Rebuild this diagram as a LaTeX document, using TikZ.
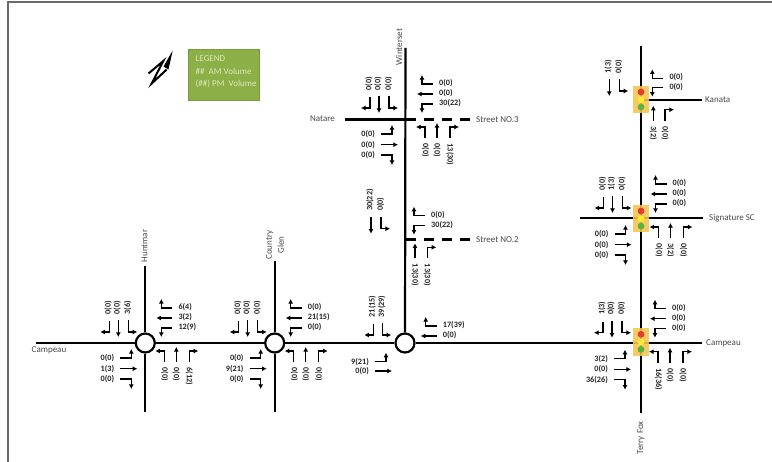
\documentclass[tikz,border=0pt]{standalone}
\usepackage{fontspec}
\setmainfont{Carlito}
\usetikzlibrary{arrows.meta}
\definecolor{framegray}{HTML}{6A6A6A}
\definecolor{legendfill}{HTML}{8CAF47}
\definecolor{legendedge}{HTML}{7A9A3C}
\definecolor{legendtext}{HTML}{DDE8BC}
\definecolor{roadtext}{HTML}{4A4A4A}
\definecolor{tlbox}{HTML}{F5C451}
\definecolor{tlred}{HTML}{E8392A}
\definecolor{tlyellow}{HTML}{F4EC2C}
\definecolor{tlgreen}{HTML}{5CB23C}
\tikzset{
  road/.style={line width=2.2pt,black},
  dashroad/.style={line width=2.2pt,black,dash pattern=on 10pt off 8pt},
  mv/.style={line width=1.3pt,black,-{Latex[length=4.6pt,width=5pt]}},
  circ/.style={circle,draw=black,line width=2.2pt,fill=white,minimum size=19pt,inner sep=0pt},
  vol/.style={font=\fontsize{8.2}{8.5}\selectfont\bfseries,text=black!85,inner sep=0pt},
  volup/.style={vol,rotate=90,anchor=west},
  voldn/.style={vol,rotate=-90,anchor=west},
  volr/.style={vol,anchor=west},
  voll/.style={vol,anchor=east},
  rname/.style={font=\fontsize{9}{9.5}\selectfont,text=roadtext,inner sep=0pt},
  tbox/.style={fill=tlbox,draw=none,opacity=.88,minimum width=16pt,minimum height=27.5pt,inner sep=0pt},
}
\newcommand{\SL}[1]{\draw[mv](-36,-22)--(-36,-11)--(-45,-11);\node[volup] at (-37,-28.5){#1};}
\newcommand{\ST}[1]{\draw[mv](-27,-23)--(-27,-6);\node[volup] at (-28,-28.5){#1};}
\newcommand{\SR}[1]{\draw[mv](-17,-23)--(-17,-11)--(-8,-11);\node[volup] at (-17.5,-28.5){#1};}
\newcommand{\WN}[1]{\draw[mv](27,-35)--(16,-35)--(16,-44);\node[volr] at (33,-36){#1};}
\newcommand{\WT}[1]{\draw[mv](27,-25)--(11,-25);\node[volr] at (33,-25.5){#1};}
\newcommand{\WS}[1]{\draw[mv](27,-15)--(16,-15)--(16,-6);\node[volr] at (33,-15.5){#1};}
\newcommand{\EN}[1]{\draw[mv](-25,15)--(-14,15)--(-14,6);\node[voll] at (-31,15){#1};}
\newcommand{\ET}[1]{\draw[mv](-25,25.7)--(-8,25.7);\node[voll] at (-31,25.7){#1};}
\newcommand{\ES}[1]{\draw[mv](-25,36)--(-14,36)--(-14,46);\node[voll] at (-31,36){#1};}
\newcommand{\NW}[1]{\draw[mv](19,19)--(19,8)--(10,8);\node[voldn] at (19.5,24.5){#1};}
\newcommand{\NT}[1]{\draw[mv](31,19)--(31,4);\node[voldn] at (31,24.5){#1};}
\newcommand{\NE}[1]{\draw[mv](44,19)--(44,8)--(53,8);\node[voldn] at (44,24.5){#1};}
\newcommand{\G}[3]{\begin{scope}[shift={(#1,#2)}]#3\end{scope}}
\newcommand{\TL}[2]{%
  \node[tbox] at (#1,#2) {};
  \fill[tlred] (#1,#2-7.7) circle (3.4);
  \fill[tlyellow] (#1,#2) circle (3.4);
  \fill[tlgreen] (#1,#2+7.4) circle (3.4);
}
\begin{document}
\begin{tikzpicture}[x=1pt,y=-1pt]
\useasboundingbox (0,0) rectangle (772,462);
\fill[white] (0,0) rectangle (772,462);
\draw[framegray,line width=2pt] (8,462) -- (8,1.7) -- (772,1.7);
% intersections
\node[circ] (c1) at (145.3,343) {};
\node[circ] (c2) at (274.7,343) {};
\node[circ] (c3) at (405,343) {};
\coordinate (hw) at (36,343);
\coordinate (hn) at (145.3,266);
\coordinate (hs) at (145.3,412);
\coordinate (gn) at (274.7,261);
\coordinate (gs) at (274.7,412);
\coordinate (wn) at (405.5,48);
\coordinate (n3w) at (345,119.5);
\coordinate (n3c) at (405.5,119.5);
\coordinate (n3e) at (472,119.5);
\coordinate (n2c) at (405.5,239.5);
\coordinate (n2e) at (472,239.5);
\coordinate (tn) at (641,46);
\coordinate (ts) at (641,413);
\coordinate (kc) at (641,100);
\coordinate (ke) at (702,100);
\coordinate (sw) at (580,218);
\coordinate (se) at (703,218);
\coordinate (ce) at (702,343);
% roads
\draw[road] (hw) -- (c1);
\draw[road] (c1) -- (c2);
\draw[road] (c2) -- (c3);
\draw[road] (c3) -- (ce);
\draw[road] (hn) -- (c1);
\draw[road] (c1) -- (hs);
\draw[road] (gn) -- (c2);
\draw[road] (c2) -- (gs);
\draw[road] (wn) -- (c3);
\draw[road] (n3w) -- (n3c);
\draw[dashroad] (n3c) -- (n3e);
\draw[dashroad] (n2c) -- (n2e);
\draw[road] (tn) -- (ts);
\draw[road] (kc) -- (ke);
\draw[road] (sw) -- (se);
% traffic lights
\TL{641}{99.7}
\TL{641}{218.7}
\TL{641}{342}
% road names
\node[rname,rotate=90] (lh) at (144.5,246) {Huntmar};
\node[rname,rotate=90,align=center] (lg) at (275,245) {Country\\[2.5pt]Glen};
\node[rname,rotate=90] (lw) at (399,47) {Winterset};
\node[rname,rotate=90] (lt) at (641,438) {Terry Fox};
\node[rname] (lc1) at (49,350) {Campeau};
\node[rname,anchor=west] (lc2) at (706,343) {Campeau};
\node[rname,anchor=east] (ln) at (335,119) {Natare};
\node[rname,anchor=west] (l3) at (476,120) {Street NO.3};
\node[rname,anchor=west] (l2) at (476,239.5) {Street NO.2};
\node[rname,anchor=west] (lk) at (705,100) {Kanata};
\node[rname,anchor=west] (ls) at (709,218.5) {Signature SC};
% legend
\node[draw=legendedge,line width=.6pt,fill=legendfill,anchor=north west,
  minimum width=71pt,minimum height=51pt,inner sep=0pt] (leg) at (188,49) {};
\node[text=legendtext,anchor=north west,inner sep=0pt,align=left,
  font=\fontsize{9}{12.2}\selectfont] (legt) at (195.5,55.8)
  {LEGEND\\\#\#\ \ AM Volume\\(\#\#) PM\ \ Volume};
% north arrow
\draw[black,line width=2pt,line join=miter] (148.5,73.5) -- (163.3,61) -- (151.7,83.5) -- (166.7,69.5);
\fill[black] (172.7,50.5) -- (168.5,69.5) -- (163.5,66.5) -- cycle;
% Huntmar
\G{145.3}{343}{\SL{0(0)}\ST{0(0)}\SR{3(6)}\WN{6(4)}\WT{3(2)}\WS{12(9)}\EN{0(0)}\ET{1(3)}\ES{0(0)}\NW{0(0)}\NT{0(0)}\NE{6(12)}}
% Country Glen
\G{274.7}{343}{\SL{0(0)}\ST{0(0)}\SR{0(0)}\WN{0(0)}\WT{21(15)}\WS{0(0)}\EN{0(0)}\ET{9(21)}\ES{0(0)}\NW{0(0)}\NT{0(0)}\NE{0(0)}}
% Winterset / Campeau
\G{409.3}{346}{\SL{21(15)}}
\G{399.3}{346}{\SR{39(29)}}
\G{409.7}{361}{\WN{17(39)}\WT{0(0)}}
\G{400}{346.7}{\EN{9(21)}}
\G{400}{345.3}{\ET{0(0)}}
% Street NO.3
\G{406}{119}{\SL{0(0)}\ST{0(0)}\SR{0(0)}\WN{0(0)}\WT{0(0)}\WS{30(22)}\EN{0(0)}\ET{0(0)}\ES{0(0)}\NW{0(0)}\NT{0(0)}\NE{13(30)}}
% Street NO.2
\G{398}{239.7}{\ST{30(22)}\SR{0(0)}}
\G{398}{250.7}{\WN{0(0)}}
\G{398}{240.7}{\WS{30(22)}}
\G{384}{239.3}{\NT{13(30)}}
\G{383.3}{239.3}{\NE{13(30)}}
% Kanata
\G{636.3}{102}{\ST{1(3)}\SR{0(0)}}
\G{636.3}{113.3}{\WN{0(0)}}
\G{636.3}{102.7}{\WS{0(0)}}
\G{622.3}{101.7}{\NT{3(2)}}
\G{621}{101.7}{\NE{0(0)}}
% Signature SC
\G{639.5}{219}{\SL{0(0)}\ST{1(3)}\SR{0(0)}\WN{0(0)}\WT{0(0)}\WS{0(0)}\EN{0(0)}\ET{0(0)}\ES{0(0)}\NW{0(0)}\NT{3(2)}\NE{0(0)}}
% Campeau / Terry Fox
\G{639}{343.7}{\SL{1(3)}\ST{0(0)}\SR{0(0)}\WN{0(0)}\WT{0(0)}\WS{0(0)}\EN{3(2)}\ET{0(0)}\ES{36(26)}\NW{16(36)}\NT{0(0)}\NE{0(0)}}
\end{tikzpicture}
\end{document}
